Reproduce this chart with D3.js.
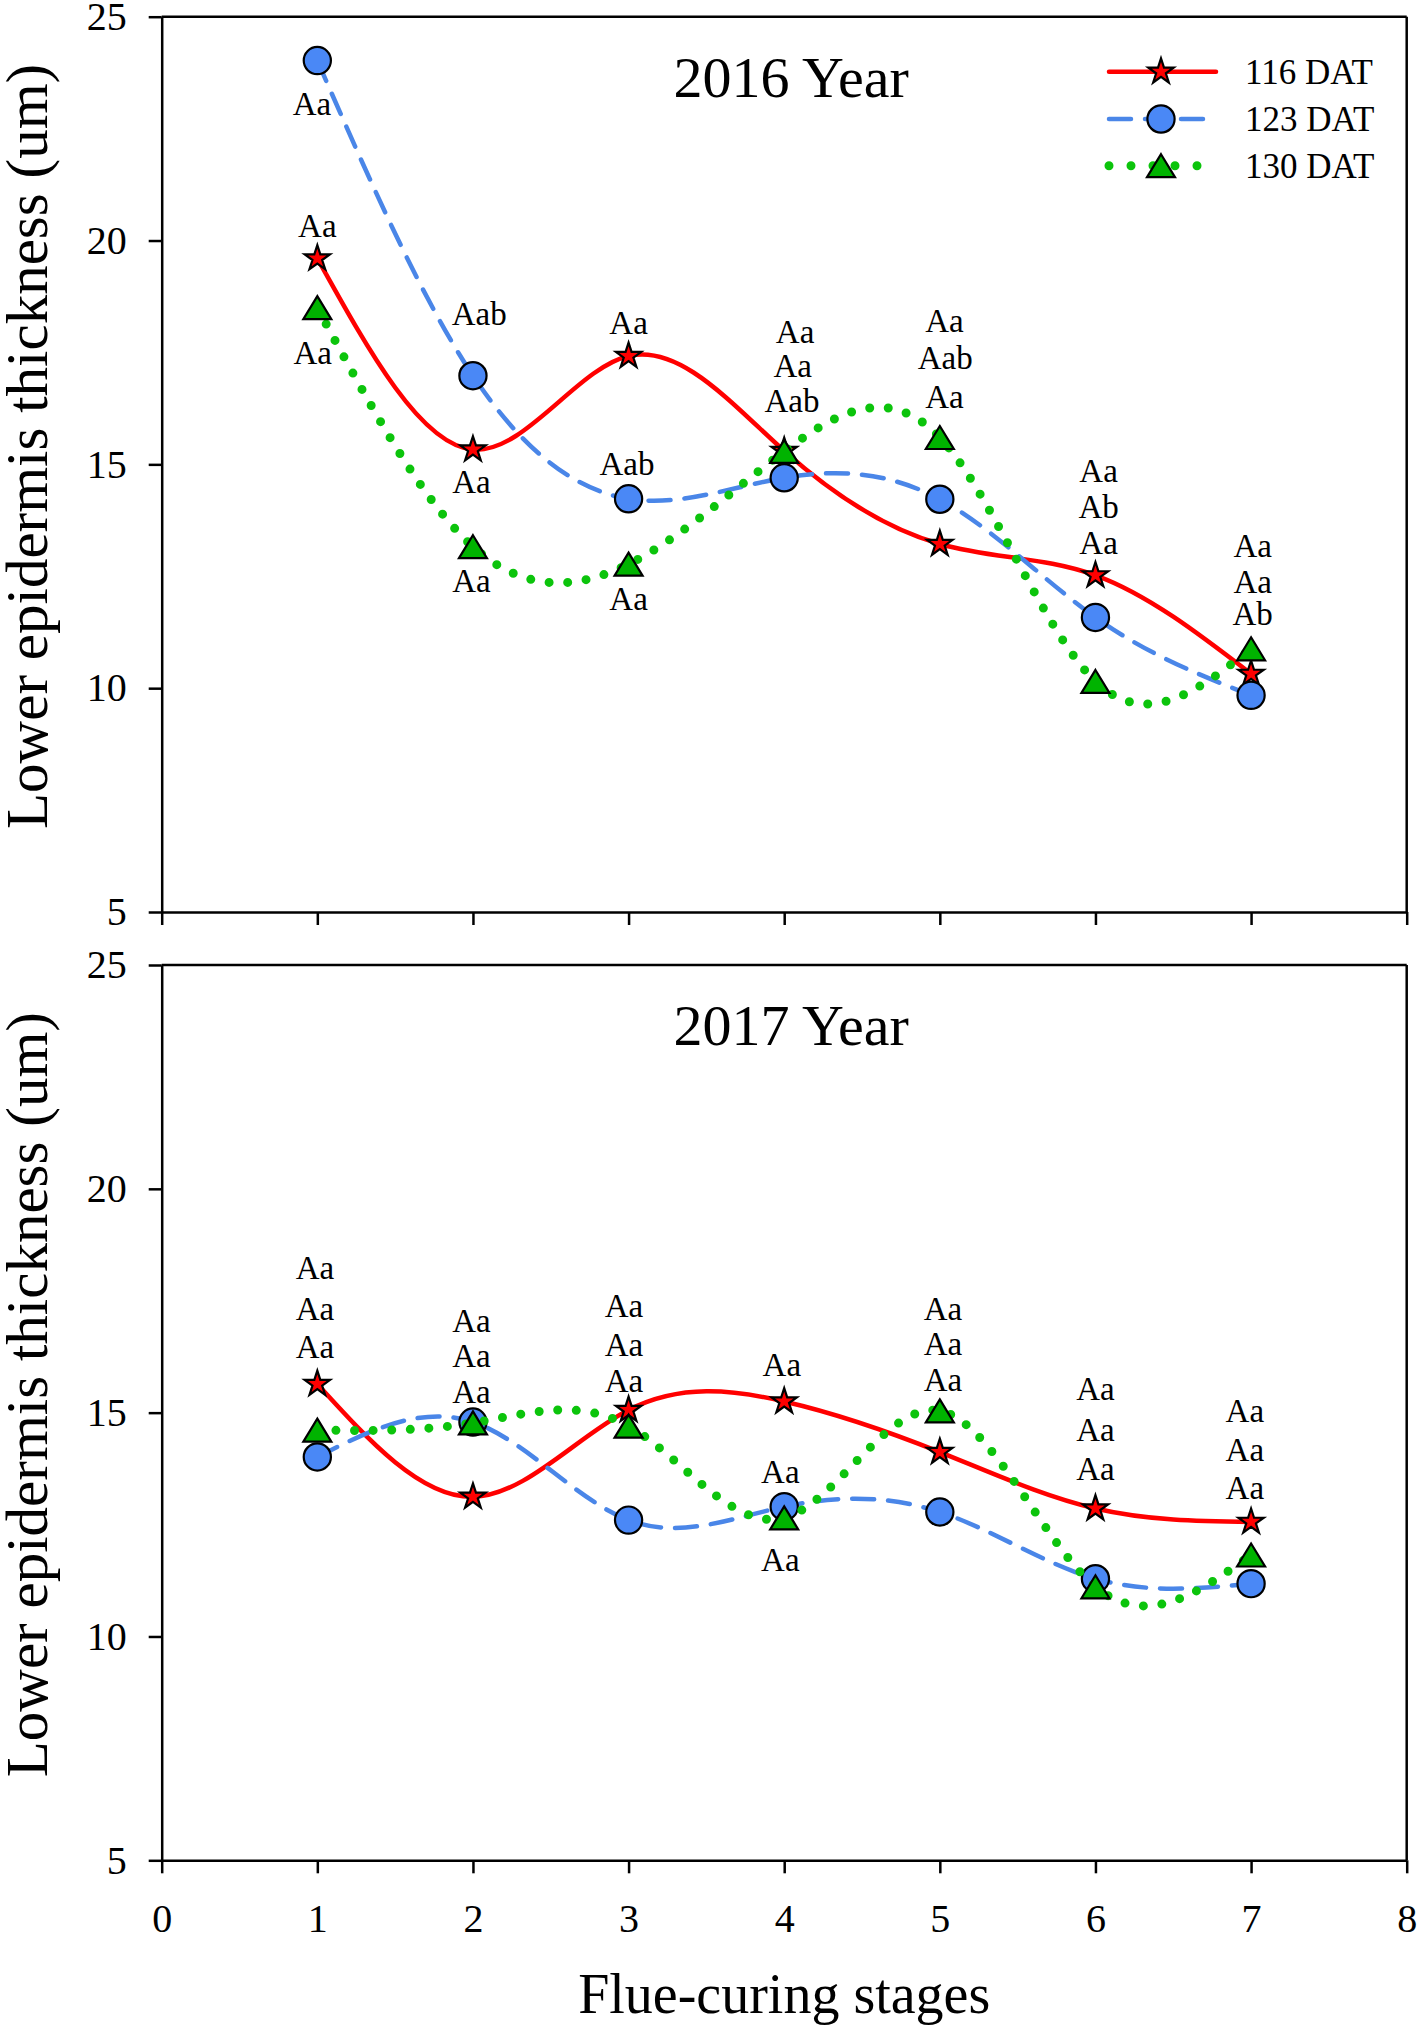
<!DOCTYPE html>
<html>
<head>
<meta charset="utf-8">
<script src="https://cdn.jsdelivr.net/npm/d3@7"></script>
<style>
  body { margin: 0; background: #fff; }
  text { font-family: "Liberation Serif", "Times New Roman", serif; fill: #000; }
</style>
</head>
<body>
<div id="chart"></div>
<script>
var stages = [1, 2, 3, 4, 5, 6, 7];
var seriesNames = ["116 DAT", "123 DAT", "130 DAT"];
var yearTitles = ["2016 Year", "2017 Year"];

var dat116_2016 = [19.6, 15.33, 17.42, 15.3, 13.22, 12.52, 10.32];
var dat123_2016 = [24.02, 16.98, 14.23, 14.7, 14.22, 11.58, 9.84];
var dat130_2016 = [18.5, 13.16, 12.77, 15.29, 15.6, 10.15, 10.88];

var dat116_2017 = [15.64, 13.12, 15.06, 15.25, 14.12, 12.86, 12.56];
var dat123_2017 = [14.01, 14.79, 12.6, 12.9, 12.78, 11.29, 11.18];
var dat130_2017 = [14.61, 14.77, 14.7, 12.65, 15.04, 11.11, 11.82];

var xTicks = [0, 1, 2, 3, 4, 5, 6, 7, 8];
var yTicks = [5, 10, 15, 20, 25];

// significance letters: x = stage, y = value at the text baseline
var letters2016 = [
  {x: 1, y: 20.07, t: "Aa"},
  {x: 0.965, y: 22.8, t: "Aa"},
  {x: 0.97, y: 17.25, t: "Aa"},
  {x: 2.04, y: 18.11, t: "Aab"},
  {x: 1.99, y: 14.35, t: "Aa"},
  {x: 1.99, y: 12.15, t: "Aa"},
  {x: 3, y: 17.91, t: "Aa"},
  {x: 2.99, y: 14.76, t: "Aab"},
  {x: 3, y: 11.74, t: "Aa"},
  {x: 4.07, y: 17.7, t: "Aa"},
  {x: 4.055, y: 16.96, t: "Aa"},
  {x: 4.05, y: 16.17, t: "Aab"},
  {x: 5.03, y: 17.96, t: "Aa"},
  {x: 5.035, y: 17.14, t: "Aab"},
  {x: 5.03, y: 16.25, t: "Aa"},
  {x: 6.02, y: 14.61, t: "Aa"},
  {x: 6.02, y: 13.81, t: "Ab"},
  {x: 6.02, y: 12.99, t: "Aa"},
  {x: 7.01, y: 12.92, t: "Aa"},
  {x: 7.01, y: 12.12, t: "Aa"},
  {x: 7.01, y: 11.41, t: "Ab"}
];

var letters2017 = [
  {x: 0.985, y: 17.98, t: "Aa"},
  {x: 0.985, y: 17.08, t: "Aa"},
  {x: 0.985, y: 16.21, t: "Aa"},
  {x: 1.99, y: 16.81, t: "Aa"},
  {x: 1.99, y: 16.02, t: "Aa"},
  {x: 1.99, y: 15.22, t: "Aa"},
  {x: 2.97, y: 17.13, t: "Aa"},
  {x: 2.97, y: 16.26, t: "Aa"},
  {x: 2.97, y: 15.46, t: "Aa"},
  {x: 3.985, y: 15.82, t: "Aa"},
  {x: 3.975, y: 13.42, t: "Aa"},
  {x: 3.975, y: 11.46, t: "Aa"},
  {x: 5.02, y: 17.07, t: "Aa"},
  {x: 5.02, y: 16.28, t: "Aa"},
  {x: 5.02, y: 15.49, t: "Aa"},
  {x: 6.0, y: 15.28, t: "Aa"},
  {x: 6.0, y: 14.37, t: "Aa"},
  {x: 6.0, y: 13.49, t: "Aa"},
  {x: 6.96, y: 14.79, t: "Aa"},
  {x: 6.96, y: 13.92, t: "Aa"},
  {x: 6.96, y: 13.08, t: "Aa"}
];

var svgWidth = 1418;
var svgHeight = 2038;
var plotLeft = 161.7;
var plotRight = 1406.7;
var panelHeight = 895.3;
var panelTops = [16.7, 965];
var serif = '"Liberation Serif", "Times New Roman", serif';

var red = "#ff0000";
var blueLine = "#4a86e8";
var blueFill = "#4a88f6";
var greenDot = "#0cc40c";
var greenFill = "#00b300";

var svg = d3.select("#chart")
  .append("svg")
  .attr("width", svgWidth)
  .attr("height", svgHeight);

var xScale = d3.scaleLinear().domain([0, 8]).range([plotLeft, plotRight]);

var lineStyles = [
  {stroke: red, width: 4.5, dash: null, cap: "round"},
  {stroke: blueLine, width: 4.5, dash: "22 14", cap: "round"},
  {stroke: greenDot, width: 9, dash: "0 18.6", cap: "round"}
];

function drawMarker(g, k, cx, cy) {
  if (k === 0) {
    g.append("path")
      .attr("d", d3.symbol().type(d3.symbolStar).size(200)())
      .attr("transform", `translate(${cx},${cy})`)
      .attr("fill", red)
      .attr("stroke", "#000")
      .attr("stroke-width", 2.2)
      .attr("stroke-linejoin", "miter");
  } else if (k === 1) {
    g.append("circle")
      .attr("cx", cx).attr("cy", cy).attr("r", 13.6)
      .attr("fill", blueFill)
      .attr("stroke", "#000")
      .attr("stroke-width", 2.2);
  } else {
    g.append("path")
      .attr("d", "M0,-11.5L14,11.5L-14,11.5Z")
      .attr("transform", `translate(${cx},${cy})`)
      .attr("fill", greenFill)
      .attr("stroke", "#000")
      .attr("stroke-width", 2.2)
      .attr("stroke-linejoin", "miter");
  }
}

function drawPanel(p, seriesData, letters) {
  var top = panelTops[p];
  var yScale = d3.scaleLinear().domain([5, 25]).range([top + panelHeight, top]);
  var g = svg.append("g");

  // frame: top and right lines
  g.append("line")
    .attr("x1", plotLeft).attr("x2", plotRight)
    .attr("y1", top).attr("y2", top)
    .attr("stroke", "#000").attr("stroke-width", 2.5);
  g.append("line")
    .attr("x1", plotRight).attr("x2", plotRight)
    .attr("y1", top).attr("y2", top + panelHeight)
    .attr("stroke", "#000").attr("stroke-width", 2.5);

  var leftAxis = d3.axisLeft(yScale)
    .tickValues(yTicks)
    .tickSize(13)
    .tickSizeOuter(0)
    .tickPadding(22)
    .tickFormat(d3.format("d"));

  var bottomAxis = d3.axisBottom(xScale)
    .tickValues(xTicks)
    .tickSize(13)
    .tickSizeOuter(0)
    .tickPadding(30)
    .tickFormat(p === 1 ? d3.format("d") : "");

  var ly = g.append("g")
    .attr("transform", `translate(${plotLeft},0)`)
    .call(leftAxis);
  var lx = g.append("g")
    .attr("transform", `translate(0,${top + panelHeight})`)
    .call(bottomAxis);

  [ly, lx].forEach(function(a) {
    a.attr("font-family", serif).attr("font-size", null);
    a.select(".domain").attr("stroke-width", 2.5);
    a.selectAll(".tick line").attr("stroke-width", 2.5);
    a.selectAll(".tick text")
      .style("font-family", serif)
      .style("font-size", "40px");
  });

  // curves and markers, one series after another
  seriesData.forEach(function(vals, k) {
    var pts = stages.map(function(s, i) { return [s, vals[i]]; });
    var line = d3.line()
      .x(function(d) { return xScale(d[0]); })
      .y(function(d) { return yScale(d[1]); })
      .curve(d3.curveNatural);
    var st = lineStyles[k];
    g.append("path")
      .datum(pts)
      .attr("d", line)
      .attr("fill", "none")
      .attr("stroke", st.stroke)
      .attr("stroke-width", st.width)
      .attr("stroke-linecap", st.cap)
      .attr("stroke-dasharray", st.dash);
    pts.forEach(function(d) {
      drawMarker(g, k, xScale(d[0]), yScale(d[1]));
    });
  });

  // letters
  g.selectAll(".letter")
    .data(letters)
    .enter()
    .append("text")
    .attr("class", "letter")
    .attr("x", function(d) { return xScale(d.x); })
    .attr("y", function(d) { return yScale(d.y); })
    .attr("text-anchor", "middle")
    .style("font-family", serif)
    .style("font-size", "33px")
    .text(function(d) { return d.t; });

  // panel title
  g.append("text")
    .attr("x", (plotLeft + plotRight) / 2 + 7)
    .attr("y", top + 80)
    .attr("text-anchor", "middle")
    .style("font-family", serif)
    .style("font-size", "58px")
    .text(yearTitles[p]);

  // y axis title
  g.append("text")
    .attr("transform", `translate(47,${top + panelHeight / 2 - 18}) rotate(-90)`)
    .attr("text-anchor", "middle")
    .style("font-family", serif)
    .style("font-size", "59px")
    .text("Lower epidermis thickness (um)");

  return g;
}

var g1 = drawPanel(0, [dat116_2016, dat123_2016, dat130_2016], letters2016);
drawPanel(1, [dat116_2017, dat123_2017, dat130_2017], letters2017);

// legend in the top panel
var legendRows = [71.7, 119, 165.7];
var legendDash = [null, "22 14", "0 22"];
var legend = g1.append("g");
seriesNames.forEach(function(name, k) {
  var yy = legendRows[k];
  legend.append("line")
    .attr("x1", 1109).attr("x2", 1216)
    .attr("y1", yy).attr("y2", yy)
    .attr("stroke", lineStyles[k].stroke)
    .attr("stroke-width", lineStyles[k].width)
    .attr("stroke-linecap", "round")
    .attr("stroke-dasharray", legendDash[k]);
  drawMarker(legend, k, 1161, yy);
  legend.append("text")
    .attr("x", 1245)
    .attr("y", yy)
    .attr("dy", "0.35em")
    .style("font-family", serif)
    .style("font-size", "35px")
    .text(name);
});

// x axis title
svg.append("text")
  .attr("x", (plotLeft + plotRight) / 2)
  .attr("y", 2013)
  .attr("text-anchor", "middle")
  .style("font-family", serif)
  .style("font-size", "56px")
  .text("Flue-curing stages");
</script>
</body>
</html>
